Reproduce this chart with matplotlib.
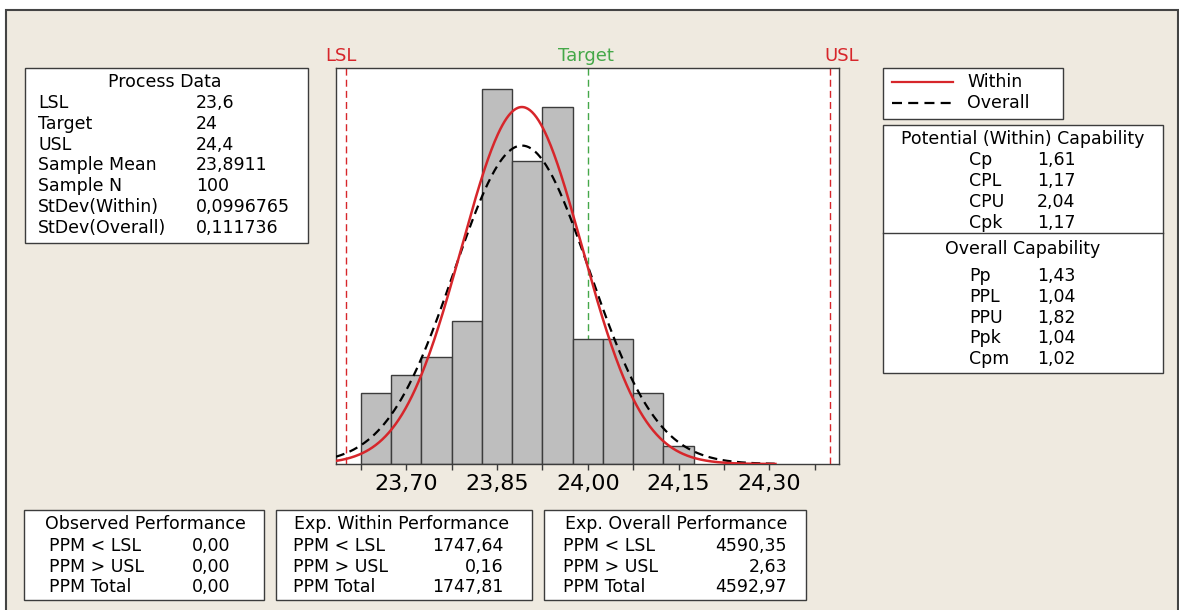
import numpy as np
import matplotlib
matplotlib.use("Agg")
import matplotlib.pyplot as plt
from matplotlib.patches import Rectangle

# Данные гистограммы
bin_centers = [23.65, 23.70, 23.75, 23.80, 23.85, 23.90, 23.95, 24.00, 24.05, 24.10, 24.15]
bin_counts = [4, 5, 6, 8, 21, 17, 20, 7, 7, 4, 1]
bin_width = 0.05

lsl, target, usl = 23.6, 24.0, 24.4
sample_mean = 23.8911
sample_n = 100
stdev_within = 0.0996765
stdev_overall = 0.111736

tick_values = [23.625, 23.70, 23.775, 23.85, 23.925, 24.00, 24.075, 24.15, 24.225, 24.30, 24.375]
tick_labels = ["", "23,70", "", "23,85", "", "24,00", "", "24,15", "", "24,30", ""]

process_labels = ["LSL", "Target", "USL", "Sample Mean", "Sample N", "StDev(Within)", "StDev(Overall)"]
process_values = ["23,6", "24", "24,4", "23,8911", "100", "0,0996765", "0,111736"]

within_labels = ["Cp", "CPL", "CPU", "Cpk"]
within_values = ["1,61", "1,17", "2,04", "1,17"]
overall_labels = ["Pp", "PPL", "PPU", "Ppk", "Cpm"]
overall_values = ["1,43", "1,04", "1,82", "1,04", "1,02"]

ppm_labels = ["PPM < LSL", "PPM > USL", "PPM Total"]
observed_ppm = ["0,00", "0,00", "0,00"]
within_ppm = ["1747,64", "0,16", "1747,81"]
overall_ppm = ["4590,35", "2,63", "4592,97"]

BG = "#EFEAE0"
RED = "#D7262B"
GREEN = "#45A849"
EDGE = "#3C3C3C"
FS = 12.5

plt.rcParams['font.family'] = ['DejaVu Sans']

W, H = 1179, 610


def add_box(ov, x0, y0, x1, y1):
    ov.add_patch(Rectangle((x0, y0), x1 - x0, y1 - y0, facecolor="white",
                           edgecolor=EDGE, lw=1.0, zorder=2))


def draw_histogram(fig):
    ax = fig.add_axes([336 / W, 1 - 464 / H, (839 - 336) / W, (464 - 68) / H], zorder=5)
    ax.set_facecolor("white")
    ax.bar(bin_centers, bin_counts, width=bin_width, color="#BEBEBE",
           edgecolor=EDGE, linewidth=1.0, zorder=2)

    # Кривые нормального распределения (по среднему и StDev)
    xs = np.linspace(23.584, 24.31, 400)
    scale = sample_n * bin_width
    for sd, style in [(stdev_overall, dict(color="black", ls=(0, (4, 2.5)), lw=1.6)),
                      (stdev_within, dict(color=RED, ls="-", lw=1.8))]:
        ys = scale * np.exp(-0.5 * ((xs - sample_mean) / sd) ** 2) / (sd * np.sqrt(2 * np.pi))
        ax.plot(xs, ys, zorder=3, **style)

    for val, col in [(lsl, RED), (target, GREEN), (usl, RED)]:
        ax.axvline(val, color=col, ls=(0, (5, 3)), lw=1.0, zorder=1)
    trans = ax.get_xaxis_transform()
    for val, col, name, dx in [(lsl, RED, "LSL", -5), (target, GREEN, "Target", -2),
                               (usl, RED, "USL", 12)]:
        ax.annotate(name, xy=(val, 1.03), xycoords=trans, xytext=(dx, 0),
                    textcoords="offset pixels", color=col, fontsize=13,
                    ha="center", va="center", annotation_clip=False)

    ax.set_xlim(23.584, 24.415)
    ax.set_ylim(0, 22.2)
    ax.set_xticks(tick_values)
    ax.set_xticklabels(tick_labels, fontsize=16)
    ax.tick_params(axis="x", direction="out", length=4, width=1, color=EDGE, pad=3)
    ax.set_yticks([])
    for s in ax.spines.values():
        s.set_color(EDGE)
        s.set_linewidth(1.0)
    return ax


def draw_panels(fig):
    ov = fig.add_axes([0, 0, 1, 1], zorder=0)
    ov.set_xlim(0, W)
    ov.set_ylim(H, 0)
    ov.axis("off")
    ov.add_patch(Rectangle((6, 10), W - 7, H, facecolor=BG, edgecolor="#444444", lw=1.5, zorder=1))

    # Process Data
    add_box(ov, 25, 68, 308, 243)
    ov.text(165, 82, "Process Data", fontsize=FS, ha="center", va="center", zorder=3)
    for i, (lab, val) in enumerate(zip(process_labels, process_values)):
        y = 103 + i * 20.8
        ov.text(38, y, lab, fontsize=FS, ha="left", va="center", zorder=3)
        ov.text(196, y, val, fontsize=FS, ha="left", va="center", zorder=3)

    # Легенда
    add_box(ov, 883, 68, 1063, 119)
    ov.plot([892, 953], [82, 82], color=RED, lw=1.6, zorder=3)
    ov.plot([892, 953], [103, 103], color="black", lw=1.6, ls=(0, (4.5, 2.8)), zorder=3)
    ov.text(967, 82, "Within", fontsize=FS, ha="left", va="center", zorder=3)
    ov.text(967, 103, "Overall", fontsize=FS, ha="left", va="center", zorder=3)

    # Capability
    add_box(ov, 883, 125, 1163, 373)
    ov.plot([883, 1163], [233, 233], color=EDGE, lw=1.0, zorder=3)
    ov.text(1023, 139, "Potential (Within) Capability", fontsize=FS, ha="center", va="center", zorder=3)
    for i, (lab, val) in enumerate(zip(within_labels, within_values)):
        y = 160 + i * 21
        ov.text(969, y, lab, fontsize=FS, ha="left", va="center", zorder=3)
        ov.text(1037, y, val, fontsize=FS, ha="left", va="center", zorder=3)
    ov.text(1023, 249, "Overall Capability", fontsize=FS, ha="center", va="center", zorder=3)
    for i, (lab, val) in enumerate(zip(overall_labels, overall_values)):
        y = 276 + i * 20.8
        ov.text(969, y, lab, fontsize=FS, ha="left", va="center", zorder=3)
        ov.text(1037, y, val, fontsize=FS, ha="left", va="center", zorder=3)

    # Нижние таблицы PPM
    boxes = [(24, 264, 145, 49, 230, "Observed Performance", observed_ppm),
             (276, 532, 402, 293, 504, "Exp. Within Performance", within_ppm),
             (544, 806, 676, 563, 787, "Exp. Overall Performance", overall_ppm)]
    for x0, x1, xc, xl, xr, title, vals in boxes:
        add_box(ov, x0, 510, x1, 600)
        ov.text(xc, 524, title, fontsize=FS, ha="center", va="center", zorder=3)
        for i, (lab, val) in enumerate(zip(ppm_labels, vals)):
            y = 546 + i * 20.5
            ov.text(xl, y, lab, fontsize=FS, ha="left", va="center", zorder=3)
            ov.text(xr, y, val, fontsize=FS, ha="right", va="center", zorder=3)
    return ov


def main():
    fig = plt.figure(figsize=(W / 100, H / 100), dpi=100, facecolor="white")
    draw_panels(fig)
    draw_histogram(fig)
    fig.savefig("out.png", dpi=100, facecolor="white")


if __name__ == "__main__":
    main()
